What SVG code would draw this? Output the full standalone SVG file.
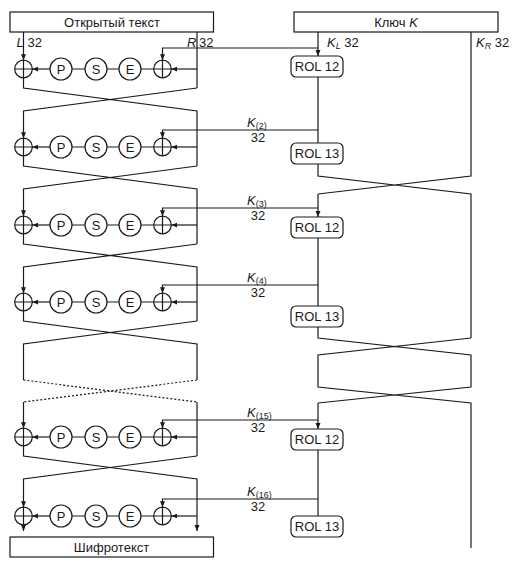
<svg xmlns="http://www.w3.org/2000/svg" width="520" height="569" viewBox="0 0 520 569">
<defs>
<marker id="ah" markerUnits="userSpaceOnUse" markerWidth="7" markerHeight="6" refX="6" refY="2.5" orient="auto"><path d="M0,0 L6,2.5 L0,5 z" style="fill:#1a1a1a;stroke:none"/></marker>
<g id="rnd">
<circle cx="23.5" cy="0" r="8.8"/><path d="M14.7,0 H32.3 M23.5,-8.8 V8.8"/>
<circle cx="61" cy="0" r="11"/><text x="61" y="4.6" class="c">P</text>
<circle cx="96" cy="0" r="11"/><text x="96" y="4.6" class="c">S</text>
<circle cx="130" cy="0" r="11"/><text x="130" y="4.6" class="c">E</text>
<circle cx="162.5" cy="0" r="8.8"/><path d="M153.7,0 H171.3 M162.5,-8.8 V8.8"/>
<path d="M85,0 H72 M119,0 H107 M153.7,0 H141"/>
<path d="M50,0 H32.3" marker-end="url(#ah)"/>
<path d="M197,0 H171.3" marker-end="url(#ah)"/>
</g>
</defs>
<style>
rect,circle,path,line{fill:none;stroke:#1a1a1a;stroke-width:1.2}
text{font-family:"Liberation Sans",Arial,sans-serif;font-size:13px;fill:#1a1a1a}
.c{text-anchor:middle}
.i{font-style:italic}
.s{font-size:9px}
.d{stroke-dasharray:2,2}
rect.bg{fill:#fff;stroke:none}
</style>
<rect class="bg" width="520" height="569"/>

<g id="box-plain"><rect x="10" y="12" width="203.5" height="20"/><text x="112" y="26.5" class="c">Открытый текст</text></g>
<g id="box-key"><rect x="294" y="12" width="204" height="20"/><text x="396" y="26.5" class="c">Ключ <tspan class="i">K</tspan></text></g>
<g id="box-cipher"><rect x="10" y="537" width="203.5" height="20"/><text x="111.5" y="551.5" class="c">Шифротекст</text></g>

<g id="round1"><use href="#rnd" y="69"/></g>
<g id="round2"><use href="#rnd" y="147"/></g>
<g id="round3"><use href="#rnd" y="225"/></g>
<g id="round4"><use href="#rnd" y="302"/></g>
<g id="round15"><use href="#rnd" y="437"/></g>
<g id="round16"><use href="#rnd" y="516"/></g>

<g id="rol1"><rect x="291" y="56" width="52" height="21" rx="5"/><text x="317" y="71" class="c">ROL 12</text></g>
<g id="rol2"><rect x="291" y="143" width="52" height="21" rx="5"/><text x="317" y="158" class="c">ROL 13</text></g>
<g id="rol3"><rect x="291" y="217" width="52" height="21" rx="5"/><text x="317" y="232" class="c">ROL 12</text></g>
<g id="rol4"><rect x="291" y="306" width="52" height="21" rx="5"/><text x="317" y="321" class="c">ROL 13</text></g>
<g id="rol15"><rect x="291" y="429" width="52" height="21" rx="5"/><text x="317" y="444" class="c">ROL 12</text></g>
<g id="rol16"><rect x="291" y="516" width="52" height="21" rx="5"/><text x="317" y="531" class="c">ROL 13</text></g>

<g id="connectors">
<path d="M23.5,32 V60.2" marker-end="url(#ah)"/>
<path d="M197,32 V88"/>
<path d="M23.5,77.8 V88 L197,111 V166 M197,88 L23.5,111 V138.2" marker-end="url(#ah)"/>
<path d="M23.5,155.8 V166 L197,189 V244 M197,166 L23.5,189 V216.2" marker-end="url(#ah)"/>
<path d="M23.5,233.8 V244 L197,267 V321 M197,244 L23.5,267 V293.2" marker-end="url(#ah)"/>
<path d="M23.5,310.8 V321 L197,344 V380 M197,321 L23.5,344 V380"/>
<path class="d" d="M23.5,380 L197,402 M197,380 L23.5,402"/>
<path d="M197,402 V456 M23.5,402 V428.2" marker-end="url(#ah)"/>
<path d="M23.5,445.8 V456 L197,479 V531" marker-end="url(#ah)"/>
<path d="M197,456 L23.5,479 V507.2" marker-end="url(#ah)"/>
<path d="M23.5,524.8 V531" marker-end="url(#ah)"/>
<path d="M318,48 H162.5 V60.2" marker-end="url(#ah)"/>
<path d="M318,130 H162.5 V138.2" marker-end="url(#ah)"/>
<path d="M318,208 H162.5 V216.2" marker-end="url(#ah)"/>
<path d="M318,285 H162.5 V293.2" marker-end="url(#ah)"/>
<path d="M318,420 H162.5 V428.2" marker-end="url(#ah)"/>
<path d="M318,499 H162.5 V507.2" marker-end="url(#ah)"/>
<path d="M318,32 V56" marker-end="url(#ah)"/>
<path d="M318,77 V143 M318,164 V176 L471,194 V338 M471,32 V176 L318,194"/>
<path d="M318,194 V217" marker-end="url(#ah)"/>
<path d="M318,238 V306 M318,327 V338 L471,355 V387 L318,403 M471,338 L318,355 V387 L471,403 V548"/>
<path d="M318,403 V429" marker-end="url(#ah)"/>
<path d="M318,450 V516"/>
</g>

<g id="labels">
<text x="16.5" y="47" class="i">L</text><text x="27.5" y="47">32</text>
<text x="187" y="47" class="i">R</text><text x="199" y="47">32</text>
<text x="327" y="47"><tspan class="i">K</tspan><tspan class="i s" dy="2">L</tspan><tspan dy="-2"> 32</tspan></text>
<text x="476" y="47"><tspan class="i">K</tspan><tspan class="i s" dy="2">R</tspan><tspan dy="-2"> 32</tspan></text>
<text x="247" y="127"><tspan class="i">K</tspan><tspan class="s" dy="2">(2)</tspan></text><text x="258" y="142" class="c">32</text>
<text x="247" y="205"><tspan class="i">K</tspan><tspan class="s" dy="2">(3)</tspan></text><text x="258" y="220" class="c">32</text>
<text x="247" y="282"><tspan class="i">K</tspan><tspan class="s" dy="2">(4)</tspan></text><text x="258" y="297" class="c">32</text>
<text x="247" y="417"><tspan class="i">K</tspan><tspan class="s" dy="2">(15)</tspan></text><text x="258" y="432" class="c">32</text>
<text x="247" y="496"><tspan class="i">K</tspan><tspan class="s" dy="2">(16)</tspan></text><text x="258" y="511" class="c">32</text>
</g>
</svg>
